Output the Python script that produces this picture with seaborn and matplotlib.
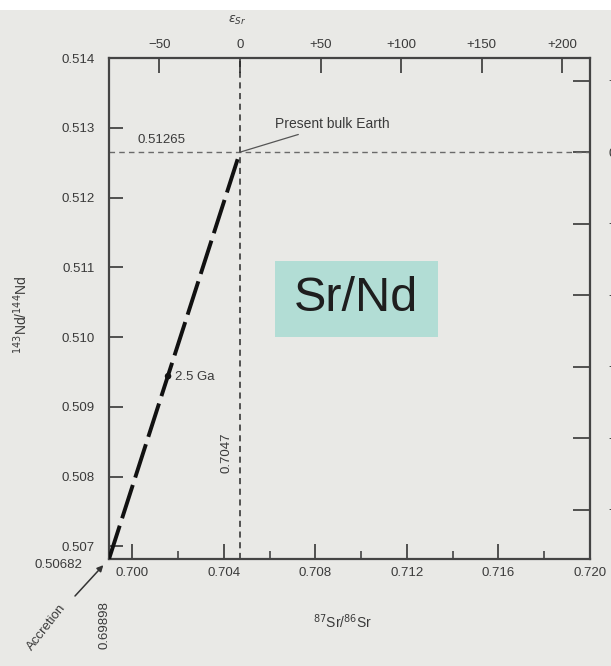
import numpy as np
import seaborn as sns
import matplotlib.pyplot as plt
from matplotlib.patches import Rectangle

sns.set_theme(style="ticks")
plt.rcParams['font.family'] = ['Liberation Sans', 'DejaVu Sans']

# data
growth_sr = [0.69898, 0.7047]          # 87Sr/86Sr, accretion -> present bulk Earth
growth_nd = [0.50682, 0.51265]         # 143Nd/144Nd
bulk_sr = 0.7047
bulk_nd = 0.51265
ga25_sr = [0.70156]
ga25_nd = [0.50944]

x_major = [0.700, 0.704, 0.708, 0.712, 0.716, 0.720]
x_major_labels = ["0.700", "0.704", "0.708", "0.712", "0.716", "0.720"]
x_minor = [0.702, 0.706, 0.710, 0.714, 0.718]
y_ticks = [0.507, 0.508, 0.509, 0.510, 0.511, 0.512, 0.513, 0.514]
y_labels = ["0.507", "0.508", "0.509", "0.510", "0.511", "0.512", "0.513", "0.514"]
eps_sr_ticks = [-50, 0, 50, 100, 150, 200]
eps_sr_labels = ["\u221250", "0", "+50", "+100", "+150", "+200"]
eps_nd_ticks = [20, 0, -20, -40, -60, -80, -100]
eps_nd_labels = ["+20", "0", "\u221220", "\u221240", "\u221260", "\u221280", "\u2212100"]

INK = "#3a3a3a"
BG = "#e9e9e6"


def sr_to_eps(x):
    return (np.asarray(x) / bulk_sr - 1) * 1e4


def eps_to_sr(e):
    return (np.asarray(e) / 1e4 + 1) * bulk_sr


def nd_to_eps(y):
    return (np.asarray(y) / bulk_nd - 1) * 1e4


def eps_to_nd(e):
    return (np.asarray(e) / 1e4 + 1) * bulk_nd


fig = plt.figure(figsize=(6.11, 6.66), dpi=100, facecolor=BG)
ax = fig.add_axes([109 / 611, 1 - 559 / 666, 481 / 611, 501 / 666])
ax.set_facecolor(BG)
fig.patches.append(Rectangle((0, 1 - 10 / 666), 1, 10 / 666, transform=fig.transFigure,
                             facecolor="white", edgecolor="none", zorder=0))

ax.set_xlim(growth_sr[0], 0.720)
ax.set_ylim(growth_nd[0], 0.514)

# reference lines for present bulk Earth
ax.axhline(bulk_nd, color="#6a6a6a", lw=1.0, ls=(0, (4, 3)), zorder=1)
ax.axvline(bulk_sr, color="#2a2a2a", lw=1.1, ls=(0, (4, 3)), zorder=1)

# growth line
sns.lineplot(x=growth_sr, y=growth_nd, ax=ax, color="#111111", lw=2.8,
             linestyle=(0, (9, 2.0)), zorder=3)
sns.scatterplot(x=ga25_sr, y=ga25_nd, ax=ax, color="#111111", s=22, marker="o",
                edgecolor="none", zorder=4)

# axes styling
for sp in ax.spines.values():
    sp.set_color("#444444")
    sp.set_linewidth(1.6)
ax.set_xticks(x_major)
ax.set_xticklabels(x_major_labels)
ax.set_xticks(x_minor, minor=True)
ax.set_yticks(y_ticks)
ax.set_yticklabels(y_labels)
ax.tick_params(axis="x", which="major", direction="in", length=11, width=1.3,
               colors="#444444", labelcolor=INK, labelsize=9.5, pad=6, top=False)
ax.tick_params(axis="x", which="minor", direction="in", length=6, width=1.2,
               colors="#444444", top=False)
ax.tick_params(axis="y", direction="in", length=10, width=1.3, colors="#444444",
               labelcolor=INK, labelsize=9.5, pad=10, right=False)

ax.set_xlabel("$^{87}$Sr/$^{86}$Sr", color=INK, fontsize=10)
ax.xaxis.set_label_coords(0.486, -0.106)
ax.set_ylabel("$^{143}$Nd/$^{144}$Nd", color=INK, fontsize=10)
ax.yaxis.set_label_coords(-0.164, 0.487)

# epsilon axes
top = ax.secondary_xaxis("top", functions=(sr_to_eps, eps_to_sr))
top.set_xticks(eps_sr_ticks)
top.set_xticklabels(eps_sr_labels)
top.tick_params(direction="in", length=11, width=1.3, colors="#444444",
                labelcolor=INK, labelsize=9.5, pad=5)
top.spines["top"].set_visible(False)
ax.text(0.266, 1.074, r"$\epsilon_{Sr}$", transform=ax.transAxes, ha="center",
        va="center", color=INK, fontsize=9)

right = ax.secondary_yaxis("right", functions=(nd_to_eps, eps_to_nd))
right.set_yticks(eps_nd_ticks)
right.set_yticklabels(eps_nd_labels)
right.tick_params(direction="in", length=12, width=1.3, colors="#444444",
                  labelcolor=INK, labelsize=9.5, pad=13)
right.spines["right"].set_visible(False)

# annotations
ax.annotate("Present bulk Earth", xy=(bulk_sr, bulk_nd), xytext=(35, 28),
            textcoords="offset pixels", ha="left", va="center", fontsize=10, color=INK,
            arrowprops=dict(arrowstyle="-", color="#555555", lw=0.9, shrinkA=0, shrinkB=0))
ax.annotate("0.51265", xy=(growth_sr[0], bulk_nd), xytext=(52, 12),
            textcoords="offset pixels", ha="center", va="center", fontsize=9.5, color=INK)
ax.annotate("2.5 Ga", xy=(ga25_sr[0], ga25_nd[0]), xytext=(7, -1),
            textcoords="offset pixels", ha="left", va="center", fontsize=9.5, color=INK)
ax.annotate("0.7047", xy=(bulk_sr, growth_nd[0]), xytext=(-13, 106),
            textcoords="offset pixels", ha="center", va="center", rotation=90,
            fontsize=9.5, color=INK)
ax.annotate("0.50682", xy=(growth_sr[0], growth_nd[0]), xytext=(-27, -6),
            textcoords="offset pixels", ha="right", va="center", fontsize=9.5,
            color=INK, annotation_clip=False)
ax.annotate("0.69898", xy=(growth_sr[0], growth_nd[0]), xytext=(-4, -66),
            textcoords="offset pixels", ha="center", va="center", rotation=90,
            fontsize=9.5, color=INK, annotation_clip=False)
ax.annotate("", xy=(growth_sr[0], growth_nd[0]), xytext=(-34, -37),
            textcoords="offset pixels", annotation_clip=False,
            arrowprops=dict(arrowstyle="-|>", color="#333333", lw=1.1,
                            mutation_scale=9, shrinkA=0, shrinkB=6))
ax.annotate("Accretion", xy=(growth_sr[0], growth_nd[0]), xytext=(-62, -68),
            textcoords="offset pixels", ha="center", va="center", rotation=52,
            fontsize=9.5, color=INK, annotation_clip=False)

# Sr/Nd label box
ax.add_patch(Rectangle((0.345, 0.443), 0.339, 0.152, transform=ax.transAxes,
                       facecolor="#b2ddd5", edgecolor="none", zorder=2))
ax.text(0.514, 0.52, "Sr/Nd", transform=ax.transAxes, ha="center", va="center",
        fontsize=35, color="#1e1e1e", zorder=3)

fig.savefig("out.png", dpi=100, facecolor=BG)
